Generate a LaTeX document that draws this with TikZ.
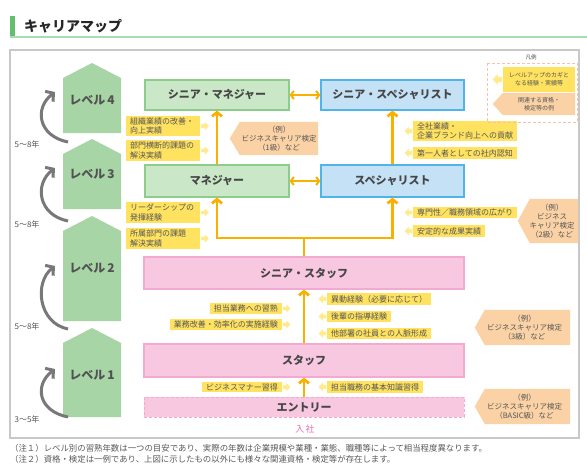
\documentclass[tikz,border=0pt]{standalone}
\usepackage{fontspec}
\setmainfont{Noto Sans CJK JP}
\usetikzlibrary{arrows.meta}
\definecolor{lvgreen}{RGB}{168,213,166}
\definecolor{mgfill}{RGB}{202,231,200}
\definecolor{mgline}{RGB}{140,205,140}
\definecolor{spfill}{RGB}{196,225,245}
\definecolor{spline}{RGB}{80,180,232}
\definecolor{pkfill}{RGB}{247,200,224}
\definecolor{pkline}{RGB}{242,170,208}
\definecolor{amber}{RGB}{250,176,0}
\definecolor{ylw}{RGB}{255,226,95}
\definecolor{ylwlt}{RGB}{255,234,140}
\definecolor{peach}{RGB}{251,210,165}
\definecolor{txt}{RGB}{70,70,70}
\definecolor{lbltxt}{RGB}{85,85,85}
\definecolor{grayarr}{RGB}{120,120,120}
\definecolor{framegray}{RGB}{200,200,200}
\definecolor{titlegreen}{RGB}{100,190,110}
\definecolor{titleline}{RGB}{170,220,175}
\definecolor{pinktext}{RGB}{238,110,170}
\definecolor{legendline}{RGB}{245,195,170}
\tikzset{
  mainbox/.style={draw, line width=1.2pt, font=\bfseries\fontsize{11}{13}\selectfont, text=txt, inner sep=0pt},
  mgbox/.style={mainbox, fill=mgfill, draw=mgline},
  spbox/.style={mainbox, fill=spfill, draw=spline},
  pkbox/.style={mainbox, fill=pkfill, draw=pkline},
  lvtext/.style={font=\bfseries\fontsize{12}{14}\selectfont, text=black!68},
  yrtext/.style={font=\fontsize{8}{9}\selectfont, text=lbltxt},
  ylab/.style={fill=ylw, text=lbltxt, font=\fontsize{8}{9.5}\selectfont, align=left, inner xsep=4pt, inner ysep=1.8pt},
  ylabw/.style={ylab, text width=66pt},
  qbody/.style={text=lbltxt, font=\fontsize{7.5}{9}\selectfont, align=center, inner sep=0pt},
  oline/.style={draw=amber, line width=2.8pt},
  oarrow/.style={oline, -{Straight Barb[length=4pt,width=10pt]}},
  oboth/.style={draw=amber, line width=2pt, {Straight Barb[length=3pt,width=8pt]}-{Straight Barb[length=3pt,width=8pt]}},
  garrow/.style={draw=grayarr, line width=3pt, -{Straight Barb[length=5.5pt,width=13pt]}},
  rarr/.pic={\fill[ylwlt, draw=white, line width=0.5pt] (0,-2.2) -- (3.5,-2.2) -- (3.5,-5) -- (8.5,0) -- (3.5,5) -- (3.5,2.2) -- (0,2.2) -- cycle;},
  larr/.pic={\fill[ylwlt, draw=white, line width=0.5pt] (0,-2.2) -- (-3.5,-2.2) -- (-3.5,-5) -- (-8.5,0) -- (-3.5,5) -- (-3.5,2.2) -- (0,2.2) -- cycle;}
}
\newcommand{\qshape}[2]{\fill[peach] (#1.north west) -- (#1.north east) -- (#1.south east) -- (#1.south west) -- ([xshift=-#2]#1.west) -- cycle;}
\begin{document}
\begin{tikzpicture}[x=1pt,y=-1pt]
\useasboundingbox (0,0) rectangle (587,466);
\fill[white] (0,0) rectangle (587,466);
% title
\fill[titlegreen] (10,16) rectangle (15,36);
\draw[titleline, line width=1.5pt] (10,37) -- (587,37);
\node[anchor=west, font=\bfseries\fontsize{14}{16}\selectfont, text=black!85, inner sep=0pt] (title) at (24,26) {キャリアマップ};
% frame
\draw[framegray, line width=1.2pt] (10,50) rectangle (579,438);
% levels
\foreach \t/\b/\n/\c in {63/133/4/100, 139/209/3/174, 216/321/2/268, 328/417/1/375}{
  \fill[lvgreen] (63,\b) -- (63,\t+15) -- (92,\t) -- (121,\t+15) -- (121,\b) -- cycle;
  \node[lvtext] (lv\n) at (92,\c) {レベル\,\n};
}
% gray curved arrows
\foreach \s/\e in {142/92, 221/168, 329/266, 417/369}{
  \draw[garrow] (68,\s) .. controls (38,\s-6) and (34,\e+16) .. (55,\e);
}
\node[yrtext] (y4) at (27,144) {5～8年};
\node[yrtext] (y3) at (27,224) {5～8年};
\node[yrtext] (y2) at (27,326) {5～8年};
\node[yrtext] (y1) at (27,419) {3～5年};
% main boxes
\node[mgbox, minimum width=144, minimum height=30] (smgr) at (217,95) {シニア・マネジャー};
\node[mgbox, minimum width=144, minimum height=32] (mgr) at (217,181) {マネジャー};
\node[spbox, minimum width=143, minimum height=30] (ssp) at (392.5,95) {シニア・スペシャリスト};
\node[spbox, minimum width=143, minimum height=32] (sp) at (392.5,181) {スペシャリスト};
\node[pkbox, minimum width=320, minimum height=32] (sstaff) at (304,273) {シニア・スタッフ};
\node[pkbox, minimum width=320, minimum height=33] (staff) at (304,360.5) {スタッフ};
\node[pkbox, densely dashed, line width=0.8pt, minimum width=320, minimum height=20] (entry) at (304,407) {エントリー};
\node[font=\fontsize{9}{11}\selectfont, text=pinktext] (nyusha) at (305,429) {入\,社};
% orange connectors
\draw[oarrow] (entry.north) -- (staff.south);
\draw[oarrow] (staff.north) -- (sstaff.south);
\coordinate (split) at (304,238);
\draw[oline] (sstaff.north) -- (split);
\draw[oarrow] (split) -| (mgr.south);
\draw[oarrow] (split) -| (sp.south);
\draw[oarrow] (mgr.north) -- (smgr.south);
\draw[oarrow] (sp.north) -- (ssp.south);
\draw[oboth] (smgr.east) -- (ssp.west);
\draw[oboth] (mgr.east) -- (sp.west);
% yellow labels left of manager track
\node[ylabw, anchor=west] (l1) at (126,126) {組織業績の改善・\\向上実績};
\node[ylabw, anchor=west] (l2) at (126,150.5) {部門横断的課題の\\解決実績};
\node[ylabw, anchor=west] (l3) at (126,212.5) {リーダーシップの\\発揮経験};
\node[ylabw, anchor=west] (l4) at (126,238.5) {所属部門の課題\\解決実績};
\foreach \n in {l1,l2,l3,l4}{\pic at ([xshift=0.5pt]\n.east) {rarr};}
% right of specialist track
\node[ylab, anchor=west] (r1) at (413,131) {全社業績・\\企業ブランド向上への貢献};
\node[ylab, anchor=west] (r2) at (413,153) {第一人者としての社内認知};
\node[ylab, anchor=west] (r3) at (413,212.5) {専門性／職務領域の広がり};
\node[ylab, anchor=west] (r4) at (413,231) {安定的な成果実績};
\foreach \n in {r1,r2,r3,r4}{\pic at ([xshift=-0.5pt]\n.west) {larr};}
% staff level
\node[ylab, anchor=east] (s1) at (282,308.5) {担当業務への習熟};
\node[ylab, anchor=east] (s2) at (282,324.5) {業務改善・効率化の実施経験};
\node[ylab, anchor=east] (e1) at (282,387) {ビジネスマナー習得};
\foreach \n in {s1,s2,e1}{\pic at ([xshift=0.5pt]\n.east) {rarr};}
\node[ylab, anchor=west] (s3) at (327,299) {異動経験（必要に応じて）};
\node[ylab, anchor=west] (s4) at (327,316.5) {後輩の指導経験};
\node[ylab, anchor=west] (s5) at (327,333.5) {他部署の社員との人脈形成};
\node[ylab, anchor=west] (e2) at (327,387) {担当職務の基本知識習得};
\foreach \n in {s3,s4,s5,e2}{\pic at ([xshift=-0.5pt]\n.west) {larr};}
% qualification boxes
\node[qbody, minimum width=78, minimum height=33] (q1) at (279,138.5) {};
\qshape{q1}{10pt}
\node[qbody] (q1t) at (q1) {（例）\\ビジネスキャリア検定\\（1級）など};
\node[qbody, minimum width=48, minimum height=44] (q2) at (554,221) {};
\qshape{q2}{12pt}
\node[qbody] (q2t) at ([xshift=-2pt]q2.center) {（例）\\ビジネス\\キャリア検定\\（2級）など};
\node[qbody, minimum width=85, minimum height=35] (q3) at (527.5,327.5) {};
\qshape{q3}{10pt}
\node[qbody] (q3t) at ([xshift=-3pt]q3.center) {（例）\\ビジネスキャリア検定\\（3級）など};
\node[qbody, minimum width=85, minimum height=35] (q4) at (527.5,406.5) {};
\qshape{q4}{10pt}
\node[qbody] (q4t) at ([xshift=-3pt]q4.center) {（例）\\ビジネスキャリア検定\\（BASIC級）など};
% legend
\node[font=\fontsize{5.5}{6}\selectfont, text=txt] (hanrei) at (531,57) {凡例};
\draw[legendline, densely dashed, line width=0.6pt] (487,63) rectangle (577,122);
\node[fill=ylw, minimum width=72, minimum height=25, inner sep=0pt] (lg1) at (539,79.5) {};
\node[qbody, font=\fontsize{6}{8}\selectfont] (lg1t) at (lg1) {レベルアップのカギと\\なる経験・実績等};
\pic[scale=1.2] at ([xshift=-0.5pt]lg1.west) {larr};
\node[qbody, minimum width=72, minimum height=22] (lg2) at (539,104) {};
\qshape{lg2}{10pt}
\node[qbody, font=\fontsize{6}{8}\selectfont] (lg2t) at (lg2) {関連する資格・\\検定等の例};
% notes
\node[anchor=west, font=\fontsize{8.4}{9}\selectfont, text=black!65, inner sep=0pt] (note1) at (10,448) {（注１）レベル別の習熟年数は一つの目安であり、実際の年数は企業規模や業種・業態、職種等によって相当程度異なります。};
\node[anchor=west, font=\fontsize{8.4}{9}\selectfont, text=black!65, inner sep=0pt] (note2) at (10,459) {（注２）資格・検定は一例であり、上図に示したもの以外にも様々な関連資格・検定等が存在します。};
\end{tikzpicture}
\end{document}
